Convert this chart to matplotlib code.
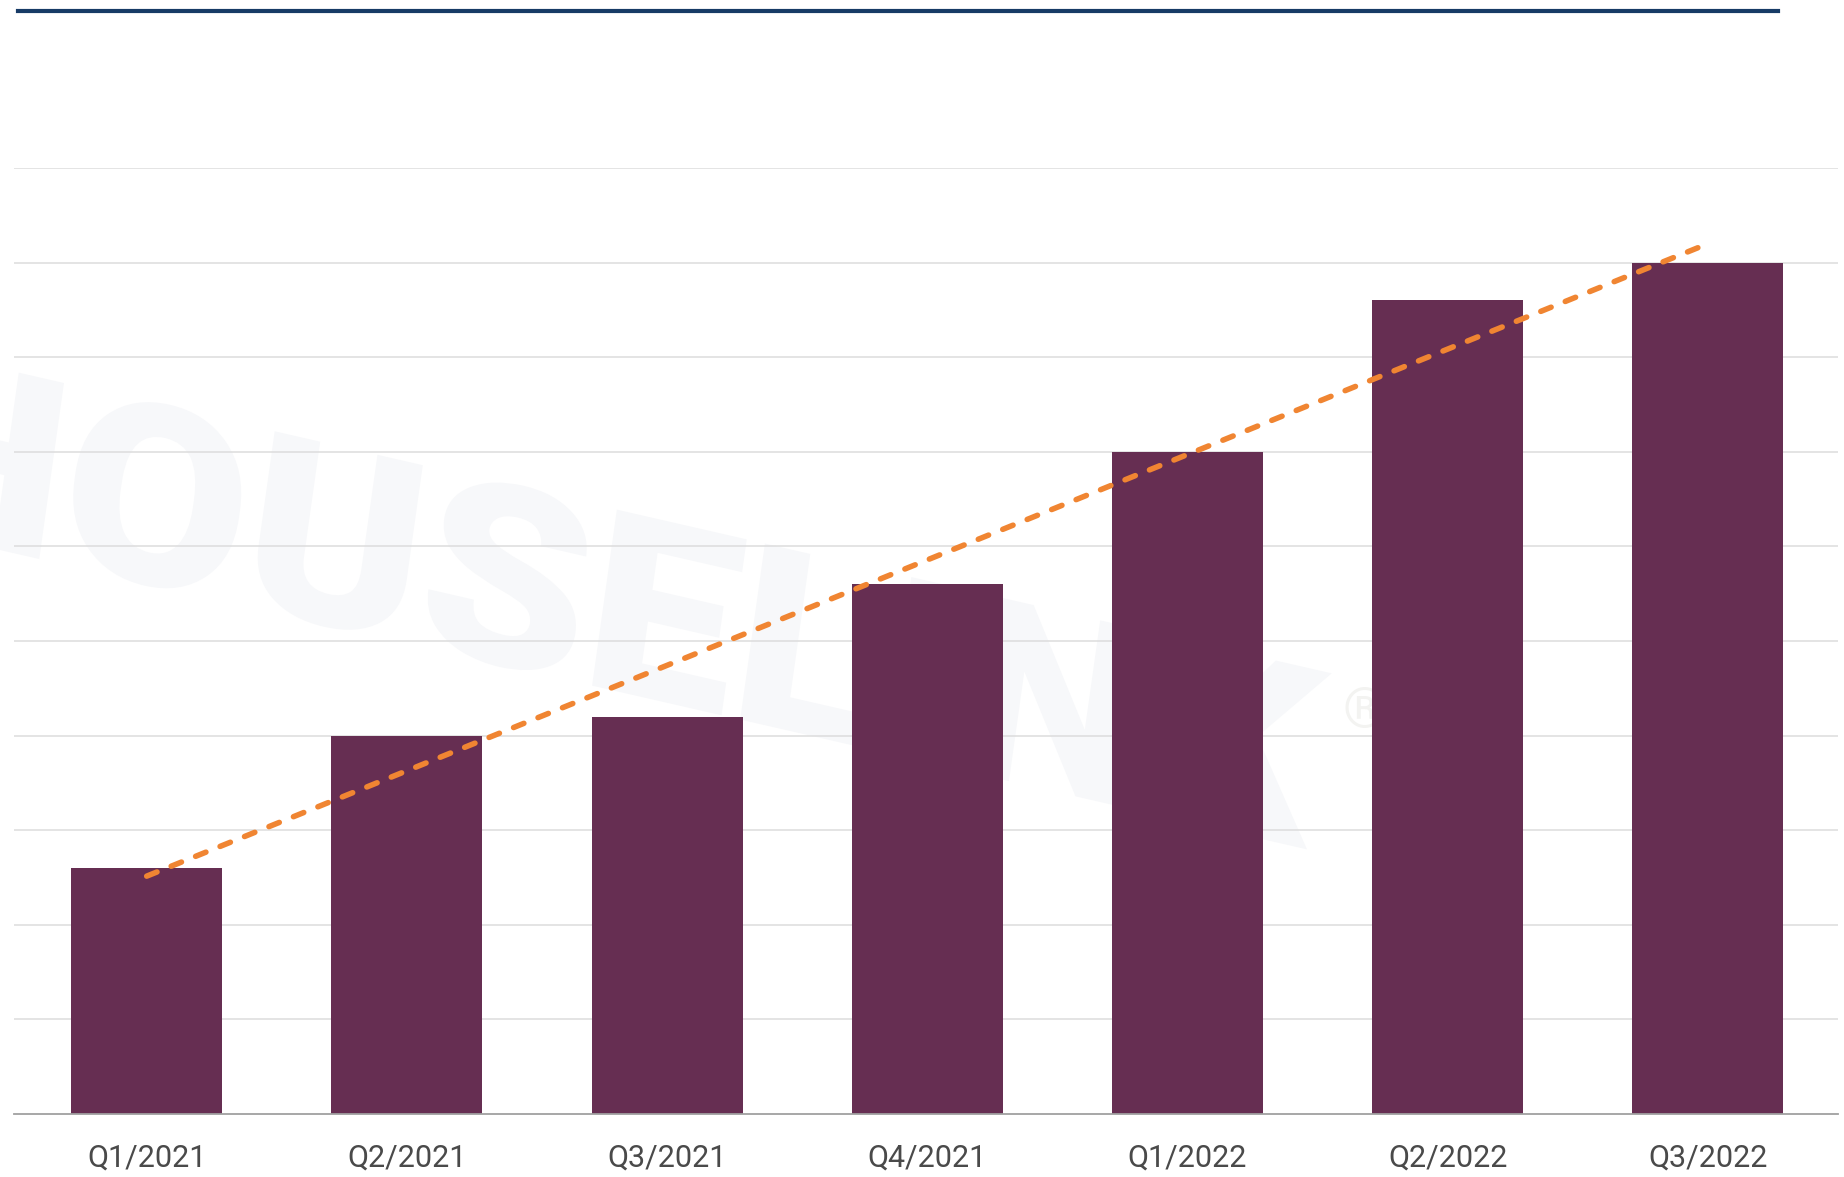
import numpy as np
import matplotlib
matplotlib.use('Agg')
import matplotlib.pyplot as plt
from matplotlib.lines import Line2D
from matplotlib.patches import PathPatch
from matplotlib.textpath import TextPath
from matplotlib.font_manager import FontProperties
from matplotlib.transforms import Affine2D, IdentityTransform

# 季度数据
quarters = ['Q1/2021', 'Q2/2021', 'Q3/2021', 'Q4/2021', 'Q1/2022', 'Q2/2022', 'Q3/2022']
values = [2.6, 4.0, 4.2, 5.6, 7.0, 8.6, 9.0]

bar_color = '#662E52'
trend_color = '#F08532'

plt.rcParams['font.family'] = ['Roboto', 'DejaVu Sans']
plt.rcParams['lines.scale_dashes'] = False

W, H = 1844, 1177
fig = plt.figure(figsize=(W / 100, H / 100), dpi=100)
ax = fig.add_axes([14 / W, 1 - 1114 / H, 1824 / W, (1114 - 168) / H])

x = np.arange(len(quarters))
ax.bar(x, values, width=0.58, color=bar_color, zorder=2)

# 线性趋势线
k, b = np.polyfit(x, values, 1)
trend = k * x + b
ax.plot(x, trend, color=trend_color, lw=4.0, dashes=(8.0, 11.0),
        dash_capstyle='round', zorder=3)

ax.set_xlim(-0.51, 6.5)
ax.set_ylim(0, 10)
ax.set_yticks(np.arange(1, 11))
ax.set_yticklabels([])
ax.tick_params(axis='y', length=0)
ax.set_xticks(x)
ax.set_xticklabels(quarters, fontsize=22, color='#4a4a4a')
ax.tick_params(axis='x', length=0, pad=21)

ax.set_axisbelow(True)
ax.grid(axis='y', color='#dcdcdc', lw=1.1, zorder=0.5)
for s in ['top', 'left', 'right']:
    ax.spines[s].set_visible(False)
ax.spines['bottom'].set_color('#a0a0a0')
ax.spines['bottom'].set_linewidth(1.3)
ax.spines['bottom'].set_zorder(4)

# 水印 (像素坐标, 斜切 + 下倾)
wm = TextPath((0, 0), 'HOUSELINK', size=1,
              prop=FontProperties(family='Roboto', weight='black'))
bb = wm.get_extents()
cap = TextPath((0, 0), 'H', size=1,
               prop=FontProperties(family='Roboto', weight='black')).get_extents().height
wm_tf = (Affine2D().translate(-bb.x0, 0)
         .scale(1425 / bb.width, 176 / cap)
         .skew_deg(8, -12.9)
         .translate(-118, H - 523))
ax.add_patch(PathPatch(wm_tf.transform_path(wm), transform=IdentityTransform(),
                       facecolor='#f7f8fa', edgecolor='none', zorder=0, clip_on=False))
ax.text(1364, H - 711, '®', transform=IdentityTransform(), fontsize=40,
        color='#f3f3f1', ha='center', va='center', zorder=0)

# 顶部深蓝色横线
fig.add_artist(Line2D([18 / W, 1778 / W], [1 - 11 / H, 1 - 11 / H],
                      color='#173b66', lw=3, transform=fig.transFigure))

fig.savefig('out.png', dpi=100)
